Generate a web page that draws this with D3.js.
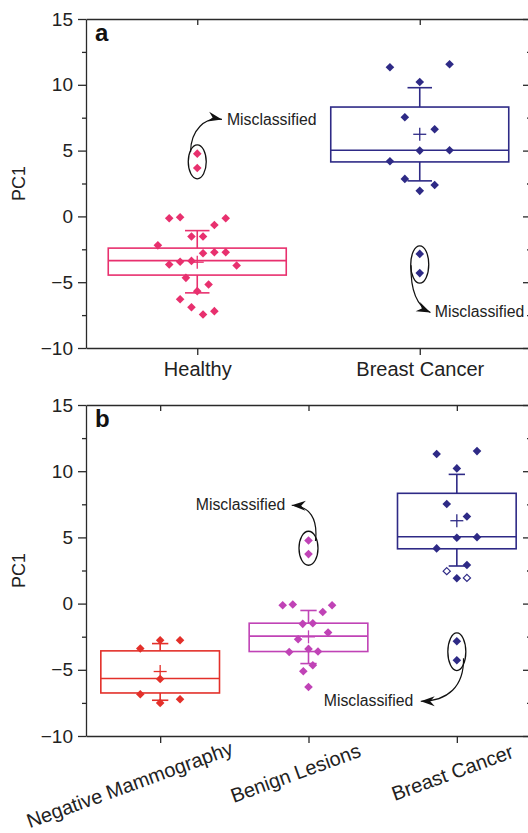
<!DOCTYPE html>
<html>
<head>
<meta charset="utf-8">
<script src="https://cdn.jsdelivr.net/npm/d3@7"></script>
<style>
  html, body { margin: 0; padding: 0; background: #fff; }
  svg { display: block; font-family: "Liberation Sans", Arial, Helvetica, sans-serif; }
</style>
</head>
<body>
<svg id="chart" width="528" height="833"></svg>
<script>
// ---------------- data ----------------
const categoriesA = ["Healthy", "Breast Cancer"];
const categoriesB = ["Negative Mammography", "Benign Lesions", "Breast Cancer"];
const yTicks = [-10, -5, 0, 5, 10, 15];
const yMinorTicks = [-7.5, -2.5, 2.5, 7.5, 12.5];

// Panel a: Healthy (jitter in category units)
const healthyPC1 = [-0.14, -0.06, -0.14, -0.65, -1.53, -1.53, -2.2, -2.8, -2.72, -2.72, -3.66,
                    -3.45, -3.38, -3.73, -4.67, -5.18, -5.68, -6.29, -6.9, -7.46, -7.2];
const healthyJitter = [-0.126, -0.077, 0.128, 0.077, -0.026, 0.026, -0.177, 0.026, 0.077, 0.128, -0.126,
                       -0.077, -0.026, 0.177, -0.051, 0.051, 0, -0.077, -0.026, 0.026, 0.077];
const healthyMisclassified = [4.77, 3.68];

// Panel a: Breast Cancer
const cancerA_PC1 = [11.33, 11.56, 10.21, 7.53, 6.62, 5.0, 5.03, 4.19, 2.85, 2.39, 1.94];
const cancerA_Jitter = [-0.134, 0.134, 0, -0.067, 0.067, 0, 0.134, -0.134, -0.067, 0.067, 0];
const cancerA_Misclassified = [-2.85, -4.31];

// Panel b: Negative Mammography
const negMamPC1 = [-3.39, -2.77, -2.77, -5.69, -6.85, -7.5, -7.22];
const negMamJitter = [-0.134, 0, 0.134, 0, -0.134, 0, 0.134];

// Panel b: Benign Lesions
const benignPC1 = [-0.12, -0.07, -0.63, -0.12, -1.53, -1.48, -2.19, -2.69, -3.42, -3.65, -3.62,
                   -4.66, -5.11, -6.3];
const benignJitter = [-0.174, -0.106, 0.096, 0.159, -0.039, 0.029, 0.132, -0.07, 0, -0.13, 0.064,
                      0.029, -0.035, 0];
const benignMisclassified = [4.77, 3.74];

// Panel b: Breast Cancer (open = hollow diamond)
const cancerB_PC1 = [11.3, 11.52, 10.21, 7.52, 6.58, 4.97, 5.02, 4.17, 2.91, 2.45, 1.92, 1.94];
const cancerB_Jitter = [-0.136, 0.136, 0, -0.068, 0.068, 0, 0.136, -0.136, 0.068, -0.068, 0, 0.068];
const cancerB_Open = [false, false, false, false, false, false, false, false, false, true, false, true];
const cancerB_Misclassified = [-2.84, -4.28];

// Box summaries: [q1, median, q3, mean, whiskerLow, whiskerHigh]
const healthyBox = [-4.46, -3.36, -2.41, -3.48, -5.81, -1.08];
const cancerA_Box = [4.14, 5.03, 8.31, 6.24, 2.7, 9.78];
const negMamBox = [-6.75, -5.66, -3.57, -5.13, -7.3, -3.02];
const benignBox = [-3.62, -2.46, -1.48, -2.51, -4.53, -0.52];
const cancerB_Box = [4.14, 5.05, 8.33, 6.26, 2.84, 9.76];

const colors = {
  healthy: "#e8306e",
  cancer: "#2e2a86",
  negMam: "#e3302a",
  benign: "#c043b6"
};

// ---------------- drawing ----------------
const svg = d3.select("#chart");
const AXIS = "#2a2a2a";

const defs = svg.append("defs");
defs.append("marker")
  .attr("id", "arrowhead")
  .attr("viewBox", "-15 -7 17 14")
  .attr("markerWidth", 17).attr("markerHeight", 14)
  .attr("refX", 0).attr("refY", 0)
  .attr("orient", "auto")
  .attr("markerUnits", "userSpaceOnUse")
  .append("path")
  .attr("d", "M0,0 L-14,-5 L-9.5,0 L-14,5 Z")
  .attr("fill", "#111");

function diamond(r) {
  return `M0,${-r} L${r},0 L0,${r} L${-r},0 Z`;
}

function drawPanel(opts) {
  const { top, bottom, categories, groups, letter, rotateLabels, labelOffsets, annotations } = opts;
  const left = 86, right = 531;
  const n = categories.length;
  const x = d3.scaleLinear().domain([-0.5, n - 0.5]).range([left, right]);
  const y = d3.scaleLinear().domain([-10, 15]).range([bottom, top]);
  const g = svg.append("g");

  // left axis: major ticks with labels, minor ticks, both outward
  const leftAxis = g.append("g").attr("transform", `translate(${left},0)`)
    .call(d3.axisLeft(y).tickValues(yTicks).tickSize(8).tickSizeOuter(0).tickPadding(5));
  g.append("g").attr("transform", `translate(${left},0)`)
    .call(d3.axisLeft(y).tickValues(yMinorTicks).tickSize(4).tickFormat(""))
    .call(s => s.select(".domain").remove());
  leftAxis.selectAll("text").attr("font-size", 19).attr("fill", "#222")
    .attr("font-family", "'Liberation Sans', Arial, sans-serif");

  // right frame with inward ticks
  g.append("g").attr("transform", `translate(${right},0)`)
    .call(d3.axisLeft(y).tickValues(yTicks).tickSize(8).tickSizeOuter(0).tickFormat(""));
  g.append("g").attr("transform", `translate(${right},0)`)
    .call(d3.axisLeft(y).tickValues(yMinorTicks).tickSize(4).tickFormat(""))
    .call(s => s.select(".domain").remove());

  // top frame with inward category ticks
  g.append("g").attr("transform", `translate(0,${top})`)
    .call(d3.axisBottom(x).tickValues(d3.range(n)).tickSize(6).tickSizeOuter(0).tickFormat(""));

  // bottom axis with category labels
  const bottomAxis = g.append("g").attr("transform", `translate(0,${bottom})`)
    .call(d3.axisBottom(x).tickValues(d3.range(n)).tickSize(7).tickSizeOuter(0)
      .tickFormat(i => categories[i]).tickPadding(8));
  bottomAxis.selectAll("text").attr("font-size", 20).attr("fill", "#222")
    .attr("font-family", "'Liberation Sans', Arial, sans-serif");
  if (rotateLabels) {
    bottomAxis.selectAll("text")
      .attr("y", null).attr("dy", null)
      .attr("text-anchor", "middle")
      .attr("dominant-baseline", "central")
      .attr("transform", (d, i) => `translate(${labelOffsets[i][0]},${labelOffsets[i][1]}) rotate(-20)`);
  } else {
    bottomAxis.selectAll("text").attr("dy", "0.71em").attr("y", 14);
  }

  g.selectAll(".domain, .tick line").attr("stroke", AXIS).attr("stroke-width", 1.3);

  // y-axis title
  g.append("text")
    .attr("transform", `translate(25,${(top + bottom) / 2}) rotate(-90)`)
    .attr("text-anchor", "middle")
    .attr("font-size", 18).attr("fill", "#222")
    .text("PC1");

  // panel letter
  g.append("text")
    .attr("x", 95).attr("y", top + 22)
    .attr("font-size", 24).attr("font-weight", "bold").attr("fill", "#111")
    .text(letter);

  const halfBox = 0.4, halfCap = 0.055;

  groups.forEach(grp => {
    const i = grp.index;
    const [q1, med, q3, mean, wLo, wHi] = grp.box;
    const bg = g.append("g").attr("stroke", grp.color).attr("stroke-width", 1.6).attr("fill", "none");
    bg.append("rect")
      .attr("x", x(i - halfBox)).attr("y", y(q3))
      .attr("width", x(i + halfBox) - x(i - halfBox)).attr("height", y(q1) - y(q3));
    bg.append("line").attr("x1", x(i - halfBox)).attr("x2", x(i + halfBox))
      .attr("y1", y(med)).attr("y2", y(med));
    // whiskers
    bg.append("line").attr("x1", x(i)).attr("x2", x(i)).attr("y1", y(q3)).attr("y2", y(wHi));
    bg.append("line").attr("x1", x(i)).attr("x2", x(i)).attr("y1", y(q1)).attr("y2", y(wLo));
    bg.append("line").attr("x1", x(i - halfCap)).attr("x2", x(i + halfCap)).attr("y1", y(wHi)).attr("y2", y(wHi));
    bg.append("line").attr("x1", x(i - halfCap)).attr("x2", x(i + halfCap)).attr("y1", y(wLo)).attr("y2", y(wLo));
    // mean cross
    bg.append("line").attr("x1", x(i) - 6.5).attr("x2", x(i) + 6.5).attr("y1", y(mean)).attr("y2", y(mean))
      .attr("stroke-width", 1.3);
    bg.append("line").attr("x1", x(i)).attr("x2", x(i)).attr("y1", y(mean) - 6.5).attr("y2", y(mean) + 6.5)
      .attr("stroke-width", 1.3);

    // points
    const pts = grp.values.map((v, k) => ({
      v, j: grp.jitter[k], open: grp.open ? grp.open[k] : false
    }));
    (grp.misclassified || []).forEach(v => pts.push({ v, j: 0, open: false }));
    g.append("g").selectAll("path").data(pts).join("path")
      .attr("d", d => d.open ? diamond(3.6) : diamond(4.3))
      .attr("transform", d => `translate(${x(i + d.j)},${y(d.v)})`)
      .attr("fill", d => d.open ? "#fff" : grp.color)
      .attr("stroke", d => d.open ? grp.color : "none")
      .attr("stroke-width", 1.2);
  });

  // "Misclassified" call-outs
  annotations.forEach(a => {
    const cx = x(a.index);
    const cy = (y(a.values[0]) + y(a.values[1])) / 2 + 1;
    const ag = g.append("g");
    ag.append("ellipse").attr("cx", cx).attr("cy", cy).attr("rx", a.rx).attr("ry", a.ry)
      .attr("fill", "none").attr("stroke", "#111").attr("stroke-width", 1.3);
    const c = a.curve.map(p => [cx + p[0], cy + p[1]]);
    ag.append("path")
      .attr("d", `M${c[0]} C${c[1]} ${c[2]} ${c[3]}`)
      .attr("fill", "none").attr("stroke", "#111").attr("stroke-width", 1.2)
      .attr("marker-end", "url(#arrowhead)");
    ag.append("text")
      .attr("x", cx + a.text[0]).attr("y", cy + a.text[1])
      .attr("text-anchor", a.anchor)
      .attr("font-size", 15.8).attr("fill", "#222")
      .text("Misclassified");
  });
}

// panel a
drawPanel({
  top: 19, bottom: 348,
  categories: categoriesA,
  letter: "a",
  rotateLabels: false,
  groups: [
    { index: 0, values: healthyPC1, jitter: healthyJitter, misclassified: healthyMisclassified,
      box: healthyBox, color: colors.healthy },
    { index: 1, values: cancerA_PC1, jitter: cancerA_Jitter, misclassified: cancerA_Misclassified,
      box: cancerA_Box, color: colors.cancer }
  ],
  annotations: [
    { index: 0, values: healthyMisclassified, rx: 9, ry: 17,
      curve: [[-6.7, -9.7], [-6.5, -31.7], [8, -45.7], [24.7, -42.4]],
      text: [29.7, -36.5], anchor: "start" },
    { index: 1, values: cancerA_Misclassified, rx: 9, ry: 18.7,
      curve: [[-8.8, 0.7], [-9.3, 27], [-2.3, 42], [10.7, 48]],
      text: [15, 52.7], anchor: "start" }
  ]
});

// panel b
drawPanel({
  top: 405, bottom: 736,
  categories: categoriesB,
  letter: "b",
  rotateLabels: true,
  labelOffsets: [[-31, 48.5], [-13.5, 37], [-5, 36.5]],
  groups: [
    { index: 0, values: negMamPC1, jitter: negMamJitter, box: negMamBox, color: colors.negMam },
    { index: 1, values: benignPC1, jitter: benignJitter, misclassified: benignMisclassified,
      box: benignBox, color: colors.benign },
    { index: 2, values: cancerB_PC1, jitter: cancerB_Jitter, open: cancerB_Open,
      misclassified: cancerB_Misclassified, box: cancerB_Box, color: colors.cancer }
  ],
  annotations: [
    { index: 1, values: benignMisclassified, rx: 9.5, ry: 17,
      curve: [[7, -7.3], [9.5, -29.3], [1.5, -42.3], [-16.8, -43]],
      text: [-23.2, -37.8], anchor: "end" },
    { index: 2, values: cancerB_Misclassified, rx: 9, ry: 18.8,
      curve: [[6.7, 6.5], [7.2, 34.5], [-8.8, 49.5], [-36.1, 49.5]],
      text: [-43.5, 54.5], anchor: "end" }
  ]
});
</script>
</body>
</html>
